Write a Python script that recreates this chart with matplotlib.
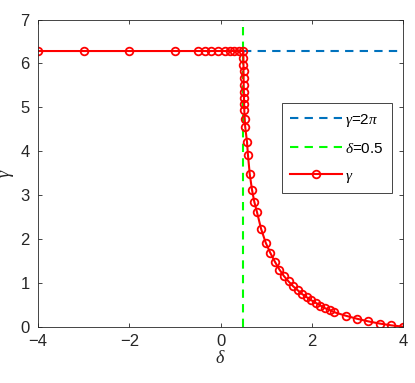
#!/usr/bin/env python3
"""gamma versus delta: flat at 2*pi below delta=0.5, decaying above it."""

import numpy as np
import matplotlib

matplotlib.use("Agg")
import matplotlib.pyplot as plt

plt.rcParams["font.family"] = "Liberation Sans"
plt.rcParams["mathtext.fontset"] = "custom"
plt.rcParams["mathtext.it"] = "Liberation Serif:italic"
plt.rcParams["mathtext.rm"] = "Liberation Sans"

TWO_PI = 2 * np.pi
DELTA_C = 0.5

# red curve
delta = [-4, -3, -2, -1, -0.5, -0.35, -0.2, -0.05, 0.1, 0.2, 0.3, 0.4, 0.5,
         0.501, 0.502, 0.503, 0.505, 0.507, 0.51, 0.513, 0.517, 0.52, 0.53,
         0.54, 0.58, 0.6, 0.64, 0.69, 0.74, 0.8, 0.89, 0.99, 1.09, 1.19,
         1.29, 1.39, 1.49, 1.59, 1.69, 1.79, 1.89, 1.99, 2.09, 2.19, 2.29,
         2.39, 2.49, 2.74, 2.99, 3.24, 3.49, 3.74, 4.0]
gamma = [TWO_PI] * 13 + [
    6.12, 5.97, 5.82, 5.66, 5.51, 5.36, 5.21, 5.07, 4.94, 4.73,
    4.56, 4.21, 3.92, 3.48, 3.12, 2.85, 2.61, 2.23, 1.92, 1.69, 1.49,
    1.31, 1.16, 1.04, 0.93, 0.84, 0.75, 0.68, 0.61, 0.55, 0.49, 0.43,
    0.39, 0.34, 0.26, 0.19, 0.13, 0.08, 0.04, 0.01]

fig = plt.figure(figsize=(4.15, 3.83), dpi=100)
ax = fig.add_axes([0.092, 0.146, 0.879, 0.803])

ax.plot([DELTA_C, 4], [TWO_PI, TWO_PI], color="#0072BD", linestyle=(0, (4, 3)),
        linewidth=1.5, label=r"$\gamma$=2$\pi$")
ax.plot([DELTA_C, DELTA_C], [0, 7], color="#00FF00", linestyle=(0, (4, 3)),
        linewidth=1.5, label=r"$\delta$=0.5")
ax.plot(delta, gamma, color="red", linewidth=1.5, marker="o", markersize=5.5,
        markerfacecolor="none", markeredgewidth=1.3, label=r"$\gamma$")

ax.set_xlim(-4, 4)
ax.set_ylim(0, 7)
ax.set_xticks(range(-4, 5, 2))
ax.set_yticks(range(0, 8))
ax.tick_params(direction="in", top=True, right=True, labelsize=12,
               colors="#262626", length=3, width=0.6)
ax.tick_params(axis="y", pad=6)
ax.tick_params(axis="x", pad=5)
for s in ax.spines.values():
    s.set_color("#262626")
    s.set_linewidth(0.6)

ax.set_xlabel(r"$\delta$", fontsize=13, color="#262626", labelpad=1)
ax.set_ylabel(r"$\gamma$", fontsize=13, color="#262626", labelpad=3)

leg = ax.legend(loc="upper left", bbox_to_anchor=(0.668, 0.728), fontsize=11,
                handlelength=3.4, handletextpad=0.2, labelspacing=0.85,
                borderpad=0.55, borderaxespad=0, fancybox=False, framealpha=1)
leg.get_frame().set_edgecolor("#262626")
leg.get_frame().set_linewidth(0.6)

fig.savefig("out.png", dpi=100)
